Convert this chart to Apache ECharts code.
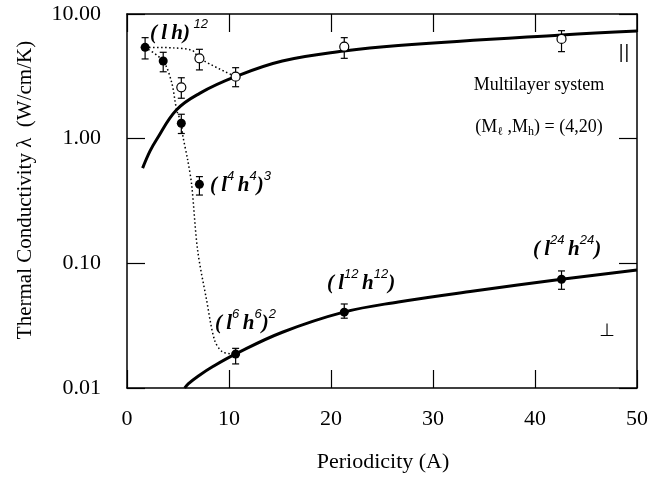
<!DOCTYPE html>
<html>
<head>
<meta charset="utf-8">
<script src="https://cdn.jsdelivr.net/npm/echarts@6/dist/echarts.min.js"></script>
<style>
  html, body { margin: 0; padding: 0; background: #fff; }
  #chart { width: 651px; height: 478px; }
</style>
</head>
<body>
<div id="chart"></div>
<script>
// periodicities of the superlattices (A)
const perpX = [1.775, 3.55, 5.325, 7.1, 10.65, 21.3, 42.6];
const perpY = [5.4, 4.2, 1.33, 0.43, 0.0187, 0.0406, 0.0745];
const perpLow = [4.36, 3.44, 1.10, 0.353, 0.0156, 0.0363, 0.0619];
const perpHigh = [6.46, 4.93, 1.57, 0.496, 0.0208, 0.0472, 0.0869];

const parX = [5.325, 7.1, 10.65, 21.3, 42.6];
const parY = [2.58, 4.41, 3.14, 5.47, 6.31];
const parLow = [2.11, 3.56, 2.61, 4.41, 4.99];
const parHigh = [3.08, 5.21, 3.71, 6.46, 7.35];

// thick solid curves
const parFitX = [1.53, 2.24, 2.89, 4.84, 7.12, 10.62, 15.23, 21.25, 26.6, 42.6, 50];
const parFitY = [0.58, 0.79, 0.98, 1.70, 2.31, 3.14, 4.20, 5.05, 5.59, 6.79, 7.31];
const perpFitX = [5.65, 6.0, 7.0, 8.5, 10.62, 15.23, 21.25, 26.6, 34, 42.6, 50];
const perpFitY = [0.01, 0.0108, 0.0125, 0.015, 0.0187, 0.028, 0.0406, 0.049, 0.06, 0.0745, 0.0885];

// dotted guide lines
const dotParX = [1.775, 4.5, 6.4, 7.1, 10.65];
const dotParY = [5.4, 5.35, 5.1, 4.41, 3.14];
const dotPerpX = [1.775, 3.55, 4.39, 4.87, 5.325, 5.46, 5.95, 6.34, 6.92, 7.8, 8.58, 9.36, 10.65];
const dotPerpY = [5.4, 4.2, 2.8, 1.7, 1.33, 1.07, 0.675, 0.426, 0.128, 0.0509, 0.0243, 0.0195, 0.0187];

const xTicks = [0, 10, 20, 30, 40, 50];
const yTicks = [0.01, 0.1, 1, 10];

const serif = 'Liberation Serif';
const zip = (a, b) => a.map((v, i) => [v, b[i]]);
const zip3 = (a, b, c) => a.map((v, i) => [v, b[i], c[i]]);

function errorBar(params, api) {
  const x = api.value(0);
  const top = api.coord([x, api.value(2)]);
  const bot = api.coord([x, api.value(1)]);
  const w = 3.5;
  const st = { stroke: '#000', lineWidth: 1.2 };
  return {
    type: 'group',
    children: [
      { type: 'line', shape: { x1: top[0], y1: top[1], x2: bot[0], y2: bot[1] }, style: st },
      { type: 'line', shape: { x1: top[0] - w, y1: top[1], x2: top[0] + w, y2: top[1] }, style: st },
      { type: 'line', shape: { x1: bot[0] - w, y1: bot[1], x2: bot[0] + w, y2: bot[1] }, style: st }
    ]
  };
}

const chart = echarts.init(document.getElementById('chart'));

const axisLine = { show: true, onZero: false, lineStyle: { color: '#000', width: 1.5 } };
const tick = { show: true, inside: true, length: 18, lineStyle: { color: '#000', width: 1.2 } };

const rich = {
  it: { fontFamily: serif, fontStyle: 'italic', fontWeight: 'bold', fontSize: 21, color: '#000' },
  sup: { fontFamily: 'Liberation Sans', fontStyle: 'italic', fontSize: 13, color: '#000', padding: [0, 0, 20, 0] },
  n: { fontFamily: serif, fontSize: 18, color: '#000' },
  sub: { fontFamily: serif, fontSize: 12, color: '#000', padding: [10, 0, 0, 0] }
};

function label(x, y, text, align) {
  return {
    type: 'text', x: x, y: y,
    style: { text: text, rich: rich, align: align || 'left', verticalAlign: 'middle' }
  };
}

chart.setOption({
  backgroundColor: '#fff',
  animation: false,
  grid: { left: 127, right: 11, top: 14, bottom: 90 },
  xAxis: [{
    type: 'value', min: xTicks[0], max: xTicks[xTicks.length - 1], interval: 10,
    axisLine: axisLine, axisTick: tick, splitLine: { show: false },
    axisLabel: { color: '#000', fontFamily: serif, fontSize: 22, margin: 20 }
  }, {
    type: 'value', position: 'top', min: 0, max: 50, interval: 10,
    axisLine: axisLine, axisTick: tick, splitLine: { show: false },
    axisLabel: { show: false }
  }],
  yAxis: [{
    type: 'log', logBase: 10, min: yTicks[0], max: yTicks[yTicks.length - 1],
    axisLine: axisLine, axisTick: tick, splitLine: { show: false }, minorTick: { show: false },
    axisLabel: {
      color: '#000', fontFamily: serif, fontSize: 22, margin: 26,
      formatter: v => v.toFixed(2)
    }
  }, {
    type: 'log', logBase: 10, min: 0.01, max: 10, position: 'right',
    axisLine: axisLine, axisTick: tick, splitLine: { show: false },
    axisLabel: { show: false }
  }],
  graphic: [
    {
      type: 'text', x: 25, y: 190, rotation: Math.PI / 2,
      style: { text: 'Thermal Conductivity \u03bb  (W/cm/K)', fontFamily: serif, fontSize: 21,
        fill: '#000', align: 'center', verticalAlign: 'middle' }
    },
    {
      type: 'text', x: 383, y: 462,
      style: { text: 'Periodicity (A)', fontFamily: serif, fontSize: 22,
        fill: '#000', align: 'center', verticalAlign: 'middle' }
    },
    label(150, 34, '{it|(\u2009l\u2009h)}{sup| 12}'),
    label(210, 186, '{it|(\u2009l}{sup|4 }{it|h}{sup|4}{it|)}{sup|3}'),
    label(215, 324, '{it|(\u2009l}{sup|6 }{it|h}{sup|6}{it|)}{sup|2}'),
    label(327, 284, '{it|(\u2009l}{sup|12 }{it|h}{sup|12}{it|)}'),
    label(533, 250, '{it|(\u2009l}{sup|24 }{it|h}{sup|24}{it|)}'),
    label(539, 85, '{n|Multilayer system}', 'center'),
    label(539, 127, '{n|(M}{sub|\u2113}{n| ,M}{sub|h}{n|) = (4,20)}', 'center'),
    {
      type: 'text', x: 624, y: 54,
      style: { text: '||', fontFamily: 'DejaVu Sans', fontSize: 17, fill: '#000', align: 'center', verticalAlign: 'middle' }
    },
    {
      type: 'text', x: 607, y: 331,
      style: { text: '\u22a5', fontFamily: 'DejaVu Sans', fontSize: 18, fill: '#000', align: 'center', verticalAlign: 'middle' }
    }
  ],
  series: [
    {
      type: 'line', data: zip(parFitX, parFitY), smooth: 0.4, symbol: 'none',
      lineStyle: { color: '#000', width: 3 }, z: 2
    },
    {
      type: 'line', data: zip(perpFitX, perpFitY), smooth: 0.4, symbol: 'none',
      lineStyle: { color: '#000', width: 3 }, z: 2
    },
    {
      type: 'line', data: zip(dotParX, dotParY), smooth: 0.3, symbol: 'none',
      lineStyle: { color: '#000', width: 1.5, type: [1.5, 2.5] }, z: 2
    },
    {
      type: 'line', data: zip(dotPerpX, dotPerpY), smooth: 0.3, symbol: 'none',
      lineStyle: { color: '#000', width: 1.5, type: [1.5, 2.5] }, z: 2
    },
    {
      type: 'custom', renderItem: errorBar, data: zip3(parX, parLow, parHigh),
      encode: { x: 0, y: [1, 2] }, z: 3
    },
    {
      type: 'custom', renderItem: errorBar, data: zip3(perpX, perpLow, perpHigh),
      encode: { x: 0, y: [1, 2] }, z: 3
    },
    {
      type: 'scatter', data: zip(parX, parY), symbol: 'circle', symbolSize: 9,
      itemStyle: { color: '#fff', borderColor: '#000', borderWidth: 1.2, opacity: 1 }, z: 4
    },
    {
      type: 'scatter', data: zip(perpX, perpY), symbol: 'circle', symbolSize: 9,
      itemStyle: { color: '#000', opacity: 1 }, z: 4
    }
  ]
});
</script>
</body>
</html>
